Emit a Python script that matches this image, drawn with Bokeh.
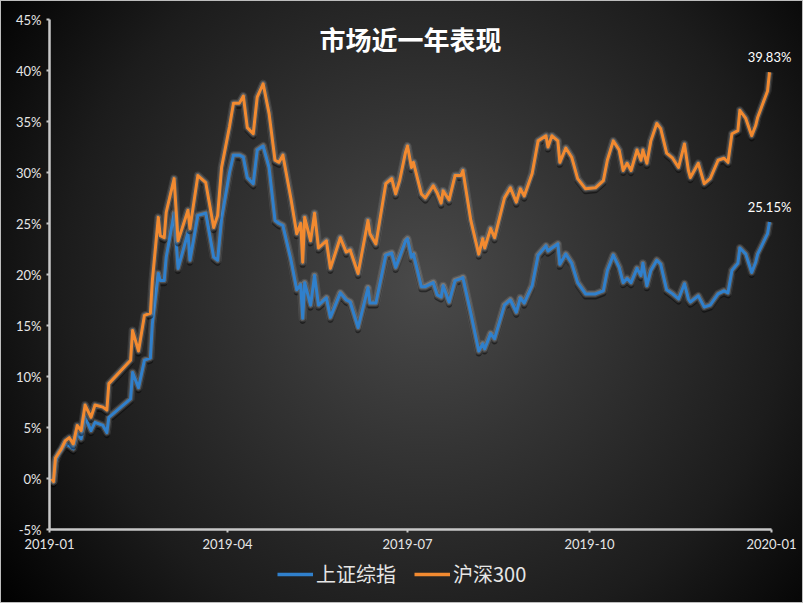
import pandas as pd
from bokeh.plotting import figure
from bokeh.layouts import column
from bokeh.models import (ColumnDataSource, Range1d, FixedTicker, PrintfTickFormatter,
                          Legend, LegendItem, Label)
from bokeh.core.properties import value
from bokeh.embed import file_html
from bokeh.resources import INLINE

# ---------------- data (cumulative return, %) ----------------
dates = [
    "2019-01-02", "2019-01-03", "2019-01-04", "2019-01-06", "2019-01-07", "2019-01-09",
    "2019-01-11", "2019-01-13", "2019-01-15", "2019-01-17", "2019-01-19", "2019-01-22",
    "2019-01-24", "2019-01-28", "2019-01-30", "2019-01-31", "2019-02-11", "2019-02-12",
    "2019-02-15", "2019-02-18", "2019-02-21", "2019-02-22", "2019-02-25", "2019-02-26",
    "2019-02-28", "2019-03-01", "2019-03-05", "2019-03-07", "2019-03-12", "2019-03-13",
    "2019-03-17", "2019-03-21", "2019-03-25", "2019-03-27", "2019-03-29", "2019-04-02",
    "2019-04-04", "2019-04-07", "2019-04-09", "2019-04-11", "2019-04-14", "2019-04-16",
    "2019-04-19", "2019-04-22", "2019-04-25", "2019-04-27", "2019-04-29", "2019-05-03",
    "2019-05-06", "2019-05-08", "2019-05-09", "2019-05-10", "2019-05-13", "2019-05-15",
    "2019-05-17", "2019-05-21", "2019-05-23", "2019-05-28", "2019-05-31", "2019-06-02",
    "2019-06-06", "2019-06-11", "2019-06-12", "2019-06-15", "2019-06-20", "2019-06-23",
    "2019-06-25", "2019-06-27", "2019-06-30", "2019-07-01", "2019-07-03", "2019-07-04",
    "2019-07-08", "2019-07-10", "2019-07-14", "2019-07-16", "2019-07-18", "2019-07-19",
    "2019-07-22", "2019-07-25", "2019-07-28", "2019-07-29", "2019-08-02", "2019-08-06",
    "2019-08-08", "2019-08-09", "2019-08-12", "2019-08-14", "2019-08-19", "2019-08-22",
    "2019-08-25", "2019-08-27", "2019-08-29", "2019-09-02", "2019-09-05", "2019-09-09",
    "2019-09-10", "2019-09-12", "2019-09-15", "2019-09-16", "2019-09-19", "2019-09-22",
    "2019-09-25", "2019-09-29", "2019-10-04", "2019-10-08", "2019-10-10", "2019-10-13",
    "2019-10-16", "2019-10-18", "2019-10-20", "2019-10-22", "2019-10-25", "2019-10-27",
    "2019-10-28", "2019-10-30", "2019-11-01", "2019-11-04", "2019-11-06", "2019-11-09",
    "2019-11-12", "2019-11-15", "2019-11-18", "2019-11-20", "2019-11-21", "2019-11-25",
    "2019-11-28", "2019-12-01", "2019-12-05", "2019-12-08", "2019-12-10", "2019-12-12",
    "2019-12-15", "2019-12-16", "2019-12-19", "2019-12-22", "2019-12-24", "2019-12-25",
    "2019-12-30", "2019-12-31",
]

# 上证综指 (blue)
sh_composite = [
    0.0, -0.3, 1.6, 2.5, 2.8, 3.4, 3.2, 2.9, 4.4, 3.9, 6.0, 4.7,
    5.5, 5.2, 4.5, 6.0, 7.8, 10.4, 8.9, 11.6, 11.8, 15.2, 20.1, 19.4,
    19.4, 21.7, 26.0, 20.6, 24.1, 21.4, 25.8, 26.0, 21.7, 21.4, 25.5, 30.0,
    31.7, 31.7, 31.5, 29.5, 28.9, 32.2, 32.6, 30.5, 25.3, 25.0, 24.8, 21.5,
    18.5, 19.0, 15.7, 19.2, 17.0, 19.9, 17.0, 17.7, 15.8, 18.2, 17.5, 17.3,
    14.8, 18.7, 17.2, 17.2, 21.9, 22.1, 20.7, 21.7, 23.3, 23.5, 21.7, 22.0,
    18.8, 18.8, 19.2, 18.0, 17.8, 18.9, 17.3, 19.4, 19.6, 19.7, 16.2, 12.5,
    13.2, 12.7, 14.2, 13.7, 17.0, 17.5, 16.3, 17.7, 17.2, 18.9, 21.9, 22.8,
    22.3, 22.6, 23.0, 21.0, 22.0, 21.1, 19.2, 18.1, 18.1, 18.4, 20.4, 21.9,
    20.7, 19.2, 19.6, 19.2, 20.6, 19.9, 21.1, 18.9, 20.4, 21.4, 21.0, 18.5,
    18.1, 17.6, 19.1, 17.6, 17.3, 17.9, 16.8, 17.0, 18.1, 18.4, 18.2, 20.4,
    21.1, 22.6, 22.0, 20.2, 21.2, 22.0, 24.0, 25.15,
]

# 沪深300 (orange)
csi_300 = [
    0.0, -0.3, 2.0, 2.6, 2.9, 3.7, 4.0, 3.4, 5.2, 4.7, 7.2, 6.0,
    7.2, 7.0, 6.7, 9.3, 11.6, 14.5, 12.5, 16.0, 16.2, 19.4, 25.6, 23.8,
    23.6, 26.1, 29.4, 23.3, 26.3, 24.5, 29.7, 29.0, 24.6, 25.8, 30.5, 34.5,
    36.8, 36.8, 37.5, 34.4, 33.8, 37.4, 38.7, 35.8, 31.2, 31.0, 31.7, 27.5,
    24.0, 25.0, 21.2, 25.6, 23.3, 26.0, 22.6, 23.3, 20.6, 23.6, 22.2, 22.4,
    20.1, 25.3, 24.0, 23.0, 28.9, 29.4, 27.9, 29.2, 32.0, 32.6, 30.5, 31.0,
    27.9, 27.5, 28.7, 28.0, 27.0, 28.2, 27.3, 29.7, 29.7, 30.2, 25.3, 22.0,
    23.5, 22.6, 24.5, 23.6, 27.5, 28.5, 27.1, 28.4, 27.7, 29.9, 33.1, 33.6,
    32.5, 33.6, 33.1, 31.0, 32.4, 31.5, 29.4, 28.4, 28.5, 29.2, 31.2, 33.1,
    32.2, 30.2, 30.9, 30.2, 32.2, 31.2, 32.2, 30.9, 33.1, 34.8, 34.3, 31.9,
    31.4, 30.5, 32.8, 30.2, 29.5, 30.9, 28.9, 29.4, 31.2, 31.4, 31.0, 33.8,
    34.1, 36.1, 35.3, 33.6, 34.6, 35.4, 38.0, 39.83,
]

series_names = ["上证综指", "沪深300"]
x_tick_labels = ["2019-01", "2019-04", "2019-07", "2019-10", "2020-01"]
y_ticks = [-5, 0, 5, 10, 15, 20, 25, 30, 35, 40, 45]
title_text = "市场近一年表现"

BLUE = "#3080CC"
ORANGE = "#F28A30"
TEXT = "#E6E6E6"
AXIS = "#C8C8C8"

W = 803
MAIN_H = 555
LEG_H = 48
FRAME_L, FRAME_R_BORDER, FRAME_T, FRAME_B_BORDER = 49, 2, 19, 26
AXIS_PX = 722   # pixel length of the dated axis (2019-01 .. 2020-01)

df = pd.DataFrame({"date": pd.to_datetime(dates), "sh": sh_composite, "hs": csi_300})
df["sh_shadow"] = df["sh"] - 0.25
df["hs_shadow"] = df["hs"] - 0.25
src = ColumnDataSource(df)

x_start = pd.Timestamp(x_tick_labels[0] + "-01")
x_end = pd.Timestamp(x_tick_labels[-1] + "-01")
frame_px = W - FRAME_L - FRAME_R_BORDER
x_end_ext = x_start + (x_end - x_start) * (frame_px / AXIS_PX)   # room for end labels

p = figure(width=W, height=MAIN_H, x_axis_type="datetime",
           x_range=Range1d(x_start, x_end_ext), y_range=Range1d(y_ticks[0], y_ticks[-1]),
           output_backend="svg", toolbar_location=None,
           min_border_left=FRAME_L, min_border_right=FRAME_R_BORDER,
           min_border_top=FRAME_T, min_border_bottom=FRAME_B_BORDER)

p.background_fill_color = None
p.border_fill_color = None
p.outline_line_color = None
p.xgrid.visible = False
p.ygrid.visible = False

# shadows + glow + lines
renderers = {}
for col, color in (("sh", BLUE), ("hs", ORANGE)):
    p.line("date", col + "_shadow", source=src, line_color="black", line_alpha=0.45,
           line_width=6, line_join="round")
    p.line("date", col, source=src, line_color="white", line_alpha=0.10,
           line_width=8, line_join="round")
    p.line("date", col, source=src, line_color="white", line_alpha=0.18,
           line_width=5.5, line_join="round")
    renderers[col] = p.line("date", col, source=src, line_color=color,
                            line_width=3, line_join="round")

# end-value labels
end_src = ColumnDataSource(dict(
    x=[df["date"].iloc[-1]] * 2,
    y=[csi_300[-1], sh_composite[-1]],
    t=["%.2f%%" % csi_300[-1], "%.2f%%" % sh_composite[-1]],
))
p.text("x", "y", text="t", source=end_src, text_align="center", text_baseline="bottom",
       y_offset=-7, text_color="white", text_font=value("Lato"), text_font_size="13px")

# title inside plot
title_x = (x_start + (x_end - x_start) / 2).value / 1e6
p.add_layout(Label(x=title_x, y=43.1, text=title_text, text_align="center",
                   text_baseline="middle", text_color="white",
                   text_font="Noto Sans CJK SC", text_font_style="bold",
                   text_font_size="26px"))

# axes
tick_ms = [pd.Timestamp(t + "-01").value // 10**6 for t in x_tick_labels]
p.xaxis.ticker = FixedTicker(ticks=tick_ms)
p.xaxis.major_label_overrides = {ms: lab for ms, lab in zip(tick_ms, x_tick_labels)}
p.xaxis.bounds = (x_start, x_end)
p.yaxis.ticker = FixedTicker(ticks=y_ticks)
p.yaxis.formatter = PrintfTickFormatter(format="%d%%")

for ax in (p.xaxis, p.yaxis):
    ax.axis_line_color = AXIS
    ax.axis_line_width = 2.5
    ax.major_tick_line_color = AXIS
    ax.major_tick_line_width = 2
    ax.major_tick_out = 3
    ax.major_tick_in = 0
    ax.minor_tick_line_color = None
    ax.major_label_text_color = TEXT
    ax.major_label_text_font = "Lato"
    ax.major_label_text_font_size = "13px"
p.yaxis.major_label_standoff = 5
p.xaxis.major_label_standoff = 6

# legend strip below the chart (its lines use the real data, which lies far outside
# this strip's 0..1 ranges, so only the legend glyphs are visible)
p2 = figure(width=W, height=LEG_H, x_range=Range1d(0, 1), y_range=Range1d(0, 1),
            output_backend="svg", toolbar_location=None,
            x_axis_location=None, y_axis_location=None, min_border=0)
p2.background_fill_color = None
p2.border_fill_color = None
p2.outline_line_color = None
p2.xgrid.visible = False
p2.ygrid.visible = False
leg_sh = p2.line("date", "sh", source=src, line_color=BLUE, line_width=3.5)
leg_hs = p2.line("date", "hs", source=src, line_color=ORANGE, line_width=3.5)
legend = Legend(items=[LegendItem(label=series_names[0], renderers=[leg_sh]),
                       LegendItem(label=series_names[1], renderers=[leg_hs])],
                orientation="horizontal", location=(226, 13),
                label_text_color=TEXT, label_text_font="Noto Sans CJK SC",
                label_text_font_size="20px", glyph_width=36, glyph_height=20,
                spacing=18, padding=2, margin=0, label_standoff=3,
                background_fill_alpha=0, border_line_alpha=0)
p2.add_layout(legend)

layout = column(p, p2, spacing=0, styles={
    "background": "radial-gradient(circle farthest-corner at 53% 47%, #4a4a4a 0%, #353535 30%, #1c1c1c 68%, #000000 100%)",
    "box-shadow": "inset 0 0 0 1px #bdbdbd",
})

open("out.html", "w").write(file_html(layout, INLINE))
